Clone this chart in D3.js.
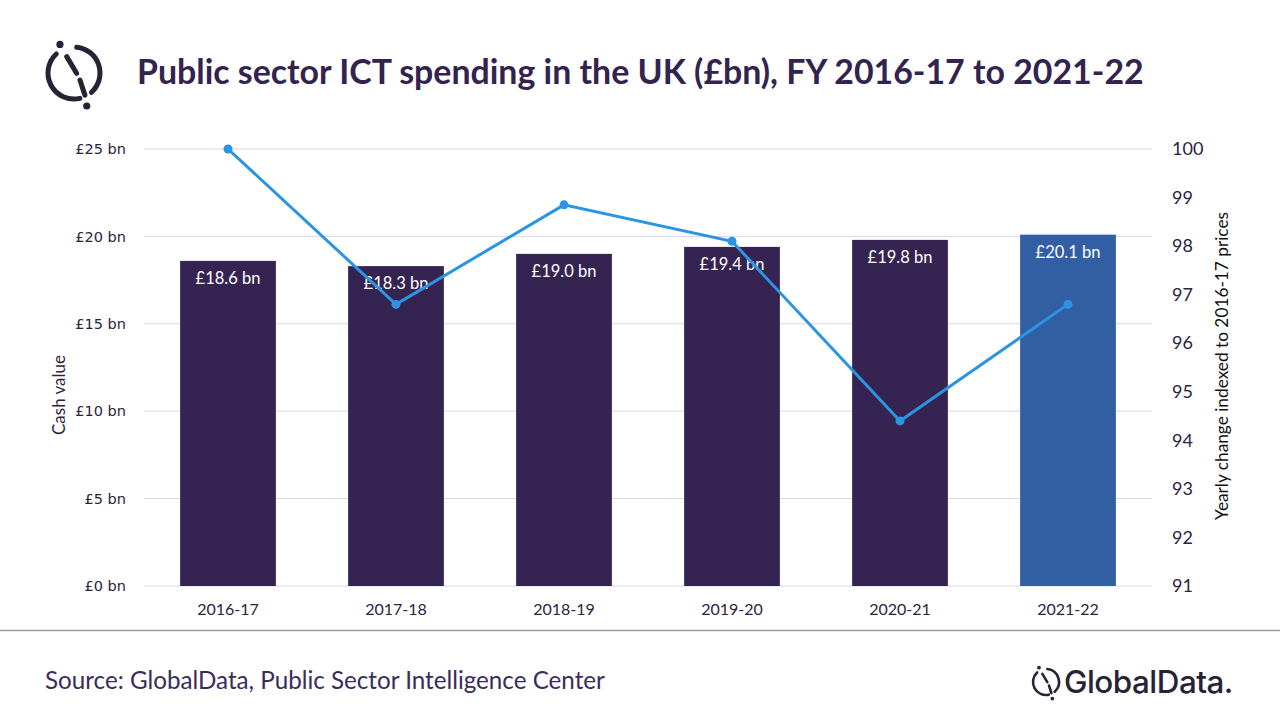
<!DOCTYPE html>
<html>
<head>
<meta charset="utf-8">
<script src="https://cdn.jsdelivr.net/npm/d3@7"></script>
<style>
  body { margin: 0; background: #fff; }
  svg { display: block; }
</style>
</head>
<body>
<svg id="chart" width="1280" height="720"></svg>
<script>

// data
const years = ["2016-17", "2017-18", "2018-19", "2019-20", "2020-21", "2021-22"];
const cashValues = [18.6, 18.3, 19.0, 19.4, 19.8, 20.1];
const indexValues = [100, 96.8, 98.85, 98.1, 94.4, 96.8];
const leftTicks = [0, 5, 10, 15, 20, 25];
const rightTicks = [91, 92, 93, 94, 95, 96, 97, 98, 99, 100];

const purple = "#352452";
const lastBlue = "#325ea3";
const lineBlue = "#2b95e3";
const gridColor = "#dcd3f2";
const textDark = "#2d2340";

const svg = d3.select("#chart");

const margin = { left: 144, right: 128, top: 149, bottom: 134 };
const innerWidth = 1280 - margin.left - margin.right;
const innerHeight = 720 - margin.top - margin.bottom;

const inner = svg.append("g")
  .attr("transform", `translate(${margin.left}, ${margin.top})`);

const xScale = d3.scaleBand()
  .domain(years)
  .range([0, innerWidth])
  .paddingInner(0.43)
  .paddingOuter(0.215);

const yLeft = d3.scaleLinear().domain([0, 25]).range([innerHeight, 0]);
const yRight = d3.scaleLinear().domain([91, 100]).range([innerHeight, 0]);

// fit a text element to a target width by scaling its font size
const fitWidth = (sel, target) => {
  const w = sel.node().getComputedTextLength();
  const fs = parseFloat(sel.attr("font-size"));
  sel.attr("font-size", fs * target / w);
};

// gridlines
inner.append("g")
  .selectAll("line")
  .data(leftTicks)
  .join("line")
    .attr("x1", 0)
    .attr("x2", innerWidth)
    .attr("y1", d => yLeft(d))
    .attr("y2", d => yLeft(d))
    .attr("stroke", gridColor)
    .attr("stroke-width", 1);

// left axis
const leftAxis = inner.append("g")
  .call(d3.axisLeft(yLeft).tickValues(leftTicks).tickSize(0).tickPadding(18)
    .tickFormat(d => `£${d} bn`))
  .attr("font-family", "DejaVu Sans, sans-serif")
  .attr("font-size", 14.5)
  .attr("fill", textDark);
leftAxis.select(".domain").remove();
leftAxis.selectAll("text").attr("fill", textDark);

// right axis
const rightAxis = inner.append("g")
  .attr("transform", `translate(${innerWidth}, 0)`)
  .call(d3.axisRight(yRight).tickValues(rightTicks).tickSize(0).tickPadding(20))
  .attr("font-family", "Lato, sans-serif")
  .attr("font-size", 18);
rightAxis.select(".domain").remove();
rightAxis.selectAll("text").attr("fill", textDark);

// x axis
const xAxis = inner.append("g")
  .attr("transform", `translate(0, ${innerHeight})`)
  .call(d3.axisBottom(xScale).tickSize(0).tickPadding(18))
  .attr("font-family", "Lato, sans-serif")
  .attr("font-size", 16);
xAxis.select(".domain").remove();
xAxis.selectAll("text").attr("fill", textDark);

// bars
inner.append("g")
  .selectAll("rect")
  .data(years)
  .join("rect")
    .attr("x", d => xScale(d))
    .attr("y", (d, i) => yLeft(cashValues[i]))
    .attr("width", xScale.bandwidth())
    .attr("height", (d, i) => innerHeight - yLeft(cashValues[i]))
    .attr("fill", (d, i) => i === years.length - 1 ? lastBlue : purple);

// bar labels
inner.append("g")
  .selectAll("text")
  .data(years)
  .join("text")
    .attr("x", d => xScale(d) + xScale.bandwidth() / 2)
    .attr("y", (d, i) => yLeft(cashValues[i]) + 23)
    .attr("text-anchor", "middle")
    .attr("font-family", "Lato, sans-serif")
    .attr("font-size", 16.5)
    .attr("fill", "#fff")
    .text((d, i) => `£${cashValues[i].toFixed(1)} bn`);

// index line
const line = d3.line()
  .x((d, i) => xScale(years[i]) + xScale.bandwidth() / 2)
  .y(d => yRight(d));

inner.append("path")
  .datum(indexValues)
  .attr("d", line)
  .attr("fill", "none")
  .attr("stroke", lineBlue)
  .attr("stroke-width", 3);

inner.append("g")
  .selectAll("circle")
  .data(indexValues)
  .join("circle")
    .attr("cx", (d, i) => xScale(years[i]) + xScale.bandwidth() / 2)
    .attr("cy", d => yRight(d))
    .attr("r", 4.5)
    .attr("fill", lineBlue);

// axis titles
const leftTitle = svg.append("text")
  .attr("transform", `translate(65, 395) rotate(-90)`)
  .attr("text-anchor", "middle")
  .attr("font-family", "Lato, sans-serif")
  .attr("font-size", 15)
  .attr("fill", textDark)
  .text("Cash value");
fitWidth(leftTitle, 80);

const rightTitle = svg.append("text")
  .attr("transform", `translate(1228, 366) rotate(-90)`)
  .attr("text-anchor", "middle")
  .attr("font-family", "Lato, sans-serif")
  .attr("font-size", 15)
  .attr("fill", "#111")
  .text("Yearly change indexed to 2016-17 prices");
fitWidth(rightTitle, 308);

// title
const title = svg.append("text")
  .attr("x", 137)
  .attr("y", 84)
  .attr("font-family", "Lato, sans-serif")
  .attr("font-weight", 700)
  .attr("font-size", 32)
  .attr("fill", "#33234f")
  .text("Public sector ICT spending in the UK (£bn), FY 2016-17 to 2021-22");
fitWidth(title, 1007);

// separator and source
svg.append("line")
  .attr("x1", 0).attr("x2", 1280)
  .attr("y1", 630.5).attr("y2", 630.5)
  .attr("stroke", "#9a9a9a")
  .attr("stroke-width", 1.5);

const source = svg.append("text")
  .attr("x", 45)
  .attr("y", 689)
  .attr("font-family", "Lato, sans-serif")
  .attr("font-size", 24)
  .attr("fill", "#3a2c5c")
  .text("Source: GlobalData, Public Sector Intelligence Center");
fitWidth(source, 560);

// GlobalData mark: two open arcs, a broken diagonal and two dots
const drawMark = (cx, cy, r, sw, color) => {
  const g = svg.append("g").attr("transform", `translate(${cx}, ${cy})`);
  const deg = Math.PI / 180;
  // angles measured from 12 o'clock, clockwise
  const arcPath = (a0, a1) => {
    const p = d3.path();
    p.moveTo(r * Math.sin(a0 * deg), -r * Math.cos(a0 * deg));
    p.arc(0, 0, r, (a0 - 90) * deg, (a1 - 90) * deg, false);
    return p.toString();
  };
  [[6, 138], [167, 317]].forEach(a => {
    g.append("path")
      .attr("d", arcPath(a[0], a[1]))
      .attr("fill", "none")
      .attr("stroke", color)
      .attr("stroke-width", sw)
      .attr("stroke-linecap", "round");
  });
  const seg = [[-0.28, -0.63, 0.1, 0.01], [0.23, 0.27, 0.42, 0.85]];
  seg.forEach(s => {
    g.append("line")
      .attr("x1", s[0] * r).attr("y1", s[1] * r)
      .attr("x2", s[2] * r).attr("y2", s[3] * r)
      .attr("stroke", color).attr("stroke-width", sw).attr("stroke-linecap", "round");
  });
  g.append("circle").attr("cx", -0.54 * r).attr("cy", -1.1 * r).attr("r", sw * 0.72).attr("fill", color);
  g.append("circle").attr("cx", 0.49 * r).attr("cy", 1.27 * r).attr("r", sw * 0.72).attr("fill", color);
};

drawMark(74, 73, 26, 5, "#272336");
drawMark(1046, 682, 13, 2.6, "#272336");

const brand = svg.append("text")
  .attr("x", 1064)
  .attr("y", 693)
  .attr("font-family", "Inter, sans-serif")
  .attr("font-weight", 500)
  .attr("font-size", 27)
  .attr("letter-spacing", -0.5)
  .attr("fill", "#272336")
  .text("GlobalData.");
fitWidth(brand, 168);

</script>
</body>
</html>
